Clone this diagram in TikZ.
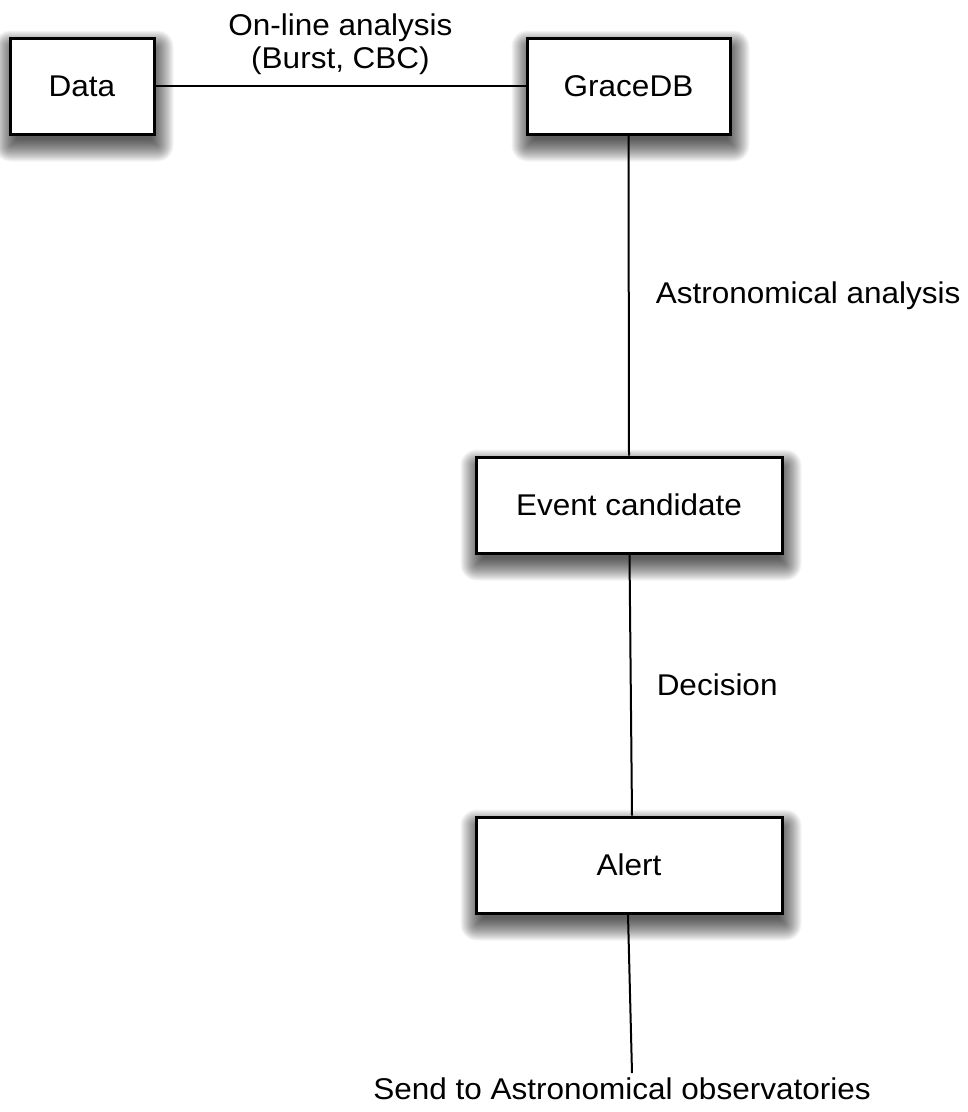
\documentclass[tikz,border=0pt]{standalone}
\usepackage{fontspec}
\setmainfont{Liberation Sans}[FakeStretch=1.05]
\usetikzlibrary{backgrounds,calc}
\begin{document}
\begin{tikzpicture}[x=1pt,y=-1pt,
  box/.style={draw=black, line width=3pt, fill=white, rectangle, inner sep=0pt,
    minimum height=96pt, font=\fontsize{30}{33}\selectfont},
  conn/.style={line width=2pt, draw=black},
  lab/.style={inner sep=0pt, font=\fontsize{30}{33}\selectfont, align=center},
  shadowlayer/.style={fill=black, opacity=0.04}]
\useasboundingbox (0,0) rectangle (968,1112);
\node[box, minimum width=144pt] (data) at (82,86) {Data};
\node[box, minimum width=203pt] (grace) at (628.5,86) {GraceDB};
\node[box, minimum width=306pt] (event) at (629,505) {Event candidate};
\node[box, minimum width=306pt] (alert) at (629,865) {Alert};
\begin{scope}[on background layer]
\fill[white] (0,0) rectangle (968,1112);
\foreach \n in {data,grace,event,alert}{
  \foreach \i in {-6,...,16}{
    \fill[shadowlayer, rounded corners={max(\i,0.1)*1pt}]
      ($(\n.north west)+(2-\i,10-\i)$) rectangle ($(\n.south east)+(2+\i,10+\i)$);
  }
}
\end{scope}
\coordinate (sendpt) at (632,1073);
\draw[conn] (data.east) -- node[lab, above, yshift=10pt] {On-line analysis\\(Burst, CBC)} (grace.west);
\draw[conn] (grace.south) -- node[lab, anchor=west, xshift=26pt] {Astronomical analysis} (event.north);
\draw[conn] ([xshift=0.5pt]event.south) -- node[lab, anchor=west, xshift=25pt] {Decision} ([xshift=3pt]alert.north);
\draw[conn] ([xshift=-1pt]alert.south) -- (sendpt);
\node[lab] (send) at (622,1089) {Send to Astronomical observatories};
\end{tikzpicture}
\end{document}
